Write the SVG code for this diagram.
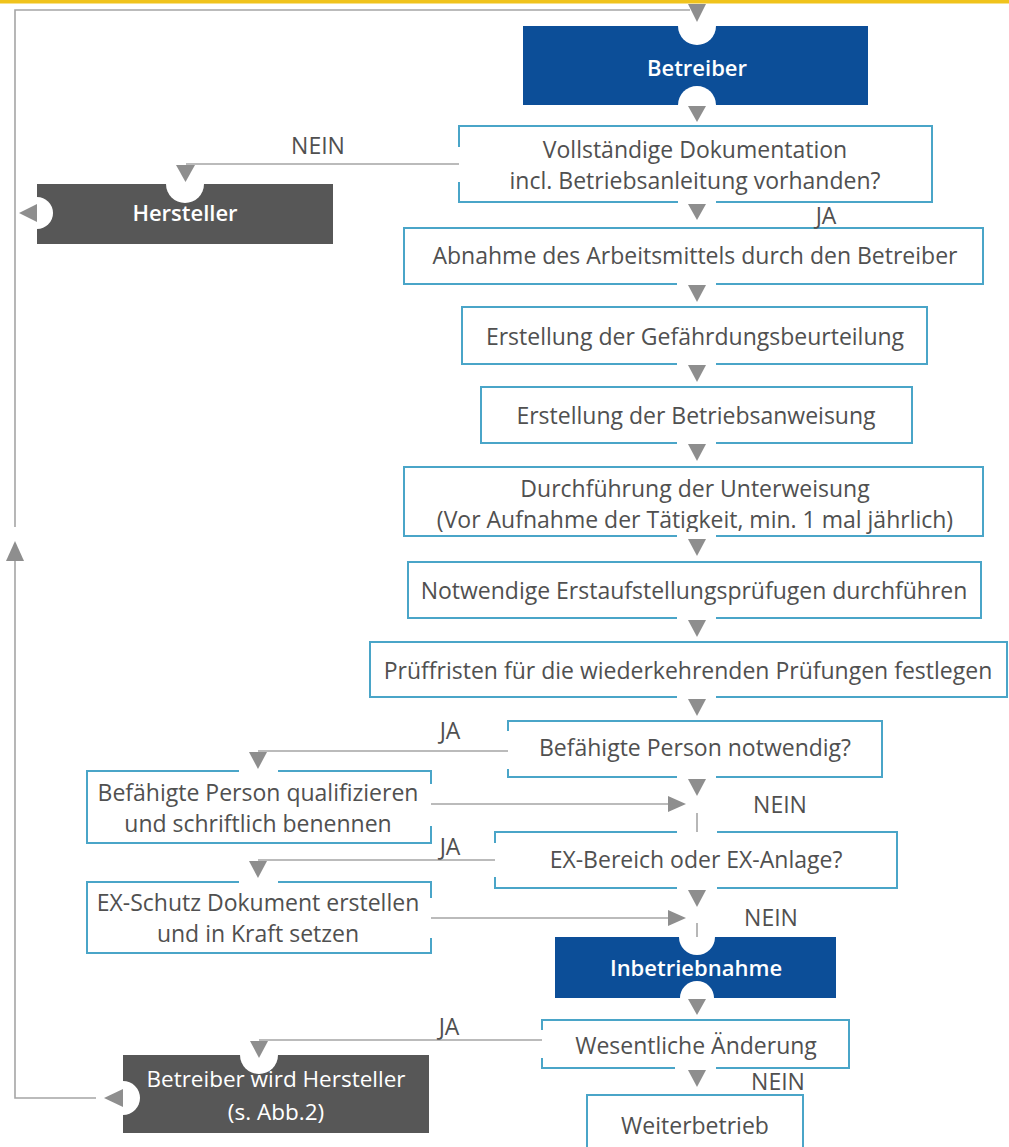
<svg xmlns="http://www.w3.org/2000/svg" width="1009" height="1147" viewBox="0 0 1009 1147">
<style>
.box{fill:#ffffff;stroke:#4aa5c8;stroke-width:2}
.blue{fill:#0c4e98}
.dark{fill:#575757}
.t{font-family:"Open Sans","Noto Sans","Liberation Sans",sans-serif;font-size:23px;fill:#505050;text-anchor:middle}
.w{font-family:"Open Sans","Noto Sans","Liberation Sans",sans-serif;font-size:22px;fill:#ffffff;text-anchor:middle;font-weight:600}
.wr{font-family:"Open Sans","Noto Sans","Liberation Sans",sans-serif;font-size:22.5px;fill:#ffffff;text-anchor:middle}
.gap{fill:#ffffff}
.ln{fill:none;stroke:#a5a5a5;stroke-width:1.6}
.tri{fill:#8e8e8e}
</style>
<rect x="0" y="0" width="1009" height="1147" fill="#ffffff"/>
<rect x="0" y="0" width="1009" height="3.5" fill="#f0c31c"/>

<g id="node-betreiber"><rect class="blue" x="523" y="26" width="345" height="79"/><text class="w" x="697" y="76">Betreiber</text></g>
<g id="node-hersteller"><rect class="dark" x="37" y="184" width="296" height="60"/><text class="w" x="185" y="221">Hersteller</text></g>
<g id="node-dokumentation"><rect class="box" x="459" y="126" width="473" height="76"/><text class="t" x="695" y="158">Vollständige Dokumentation<tspan x="695" y="189">incl. Betriebsanleitung vorhanden?</tspan></text></g>
<g id="node-abnahme"><rect class="box" x="404" y="228" width="579" height="56"/><text class="t" x="695" y="264">Abnahme des Arbeitsmittels durch den Betreiber</text></g>
<g id="node-gefaehrdung"><rect class="box" x="462" y="307" width="465" height="57"/><text class="t" x="695" y="345">Erstellung der Gefährdungsbeurteilung</text></g>
<g id="node-betriebsanweisung"><rect class="box" x="481" y="387" width="431" height="56"/><text class="t" x="696" y="424">Erstellung der Betriebsanweisung</text></g>
<g id="node-unterweisung"><rect class="box" x="404" y="467" width="579" height="69"/><text class="t" x="695" y="497">Durchführung der Unterweisung<tspan x="695" y="528">(Vor Aufnahme der Tätigkeit, min. 1 mal jährlich)</tspan></text></g>
<g id="node-erstaufstellung"><rect class="box" x="408" y="562" width="573" height="56"/><text class="t" x="694" y="599">Notwendige Erstaufstellungsprüfugen durchführen</text></g>
<g id="node-prueffristen"><rect class="box" x="370" y="642" width="637" height="55"/><text class="t" x="688" y="679">Prüffristen für die wiederkehrenden Prüfungen festlegen</text></g>
<g id="node-befaehigt-frage"><rect class="box" x="508" y="721" width="374" height="56"/><text class="t" x="695" y="756">Befähigte Person notwendig?</text></g>
<g id="node-befaehigt-qual"><rect class="box" x="87" y="771" width="344" height="72"/><text class="t" x="258" y="801">Befähigte Person qualifizieren<tspan x="258" y="832">und schriftlich benennen</tspan></text></g>
<g id="node-ex-frage"><rect class="box" x="495" y="832" width="402" height="56"/><text class="t" x="696" y="868">EX-Bereich oder EX-Anlage?</text></g>
<g id="node-ex-schutz"><rect class="box" x="87" y="882" width="344" height="71"/><text class="t" x="258" y="911">EX-Schutz Dokument erstellen<tspan x="258" y="942">und in Kraft setzen</tspan></text></g>
<g id="node-inbetriebnahme"><rect class="blue" x="555" y="937" width="281" height="61"/><text class="w" x="696" y="976">Inbetriebnahme</text></g>
<g id="node-aenderung"><rect class="box" x="542" y="1020" width="307" height="48"/><text class="t" x="696" y="1054">Wesentliche Änderung</text></g>
<g id="node-betreiber-hersteller"><rect class="dark" x="123" y="1055" width="306" height="78"/><text class="wr" x="276" y="1087">Betreiber wird Hersteller<tspan x="276" y="1120">(s. Abb.2)</tspan></text></g>
<g id="node-weiterbetrieb"><rect class="box" x="587" y="1095" width="216" height="70"/><text class="t" x="695" y="1134">Weiterbetrieb</text></g>

<g id="connectors">
<g id="halos">
<circle class="gap" cx="697" cy="26" r="19"/>
<circle class="gap" cx="697" cy="105" r="19"/>
<circle class="gap" cx="185" cy="184" r="19"/>
<circle class="gap" cx="37" cy="213" r="16"/>
<circle class="gap" cx="697" cy="937" r="18"/>
<circle class="gap" cx="697" cy="998" r="17"/>
<circle class="gap" cx="259" cy="1055" r="19"/>
<circle class="gap" cx="123" cy="1098" r="17"/>
<rect class="gap" x="678" y="198" width="38" height="8"/>
<rect class="gap" x="455" y="147" width="8" height="35"/>
<rect class="gap" x="677" y="280" width="39" height="8"/>
<rect class="gap" x="677" y="360" width="39" height="8"/>
<rect class="gap" x="677" y="439" width="39" height="8"/>
<rect class="gap" x="677" y="532" width="39" height="8"/>
<rect class="gap" x="677" y="614" width="39" height="8"/>
<rect class="gap" x="677" y="693" width="39" height="8"/>
<rect class="gap" x="677" y="773" width="39" height="8"/>
<rect class="gap" x="504" y="731" width="8" height="38"/>
<rect class="gap" x="239" y="767" width="39" height="8"/>
<rect class="gap" x="427" y="784" width="8" height="42"/>
<rect class="gap" x="677" y="828" width="40" height="8"/>
<rect class="gap" x="491" y="843" width="8" height="34"/>
<rect class="gap" x="677" y="884" width="40" height="8"/>
<rect class="gap" x="239" y="878" width="39" height="8"/>
<rect class="gap" x="427" y="898" width="8" height="40"/>
<rect class="gap" x="538" y="1030" width="8" height="28"/>
<rect class="gap" x="675" y="1064" width="41" height="8"/>
</g>
<path class="ln" d="M690,10 H15 V527"/>
<path class="ln" d="M15,556 V1098 H96"/>
<path class="ln" d="M459,164 H186"/>
<path class="ln" d="M508,751 H258"/>
<path class="ln" d="M495,860 H258"/>
<path class="ln" d="M542,1040 H259"/>
<path class="ln" d="M431,804 H670"/>
<path class="ln" d="M431,918 H670"/>
<path class="ln" d="M697,813 V832"/>
<path class="ln" d="M697,923 V937"/>
<polygon class="tri" points="688,4 706,4 697,22"/>
<polygon class="tri" points="688,106 706,106 697,122"/>
<polygon class="tri" points="688,204 706,204 697,220"/>
<polygon class="tri" points="688,285 706,285 697,302"/>
<polygon class="tri" points="688,365 706,365 697,382"/>
<polygon class="tri" points="688,444 706,444 697,461"/>
<polygon class="tri" points="688,539 706,539 697,556"/>
<polygon class="tri" points="688,620 706,620 697,637"/>
<polygon class="tri" points="688,699 706,699 697,716"/>
<polygon class="tri" points="688,779 706,779 697,796"/>
<polygon class="tri" points="668,796 668,812 686,804"/>
<polygon class="tri" points="688,890 706,890 697,907"/>
<polygon class="tri" points="668,910 668,926 686,918"/>
<polygon class="tri" points="688,999 706,999 697,1015"/>
<polygon class="tri" points="688,1070 706,1070 697,1087"/>
<polygon class="tri" points="176,165 195,165 185.5,182"/>
<polygon class="tri" points="37,204 37,222 19,213"/>
<polygon class="tri" points="6,561 24,561 15,541"/>
<polygon class="tri" points="249,752 267,752 258,769"/>
<polygon class="tri" points="249,861 267,861 258,878"/>
<polygon class="tri" points="250,1041 268,1041 259,1058"/>
<polygon class="tri" points="123,1089 123,1107 104,1098"/>
<text class="t" x="318" y="154">NEIN</text>
<text class="t" x="826" y="224">JA</text>
<text class="t" x="450" y="739">JA</text>
<text class="t" x="780" y="813">NEIN</text>
<text class="t" x="450" y="855">JA</text>
<text class="t" x="771" y="926">NEIN</text>
<text class="t" x="449" y="1035">JA</text>
<text class="t" x="778" y="1090">NEIN</text>
</g>
</svg>
